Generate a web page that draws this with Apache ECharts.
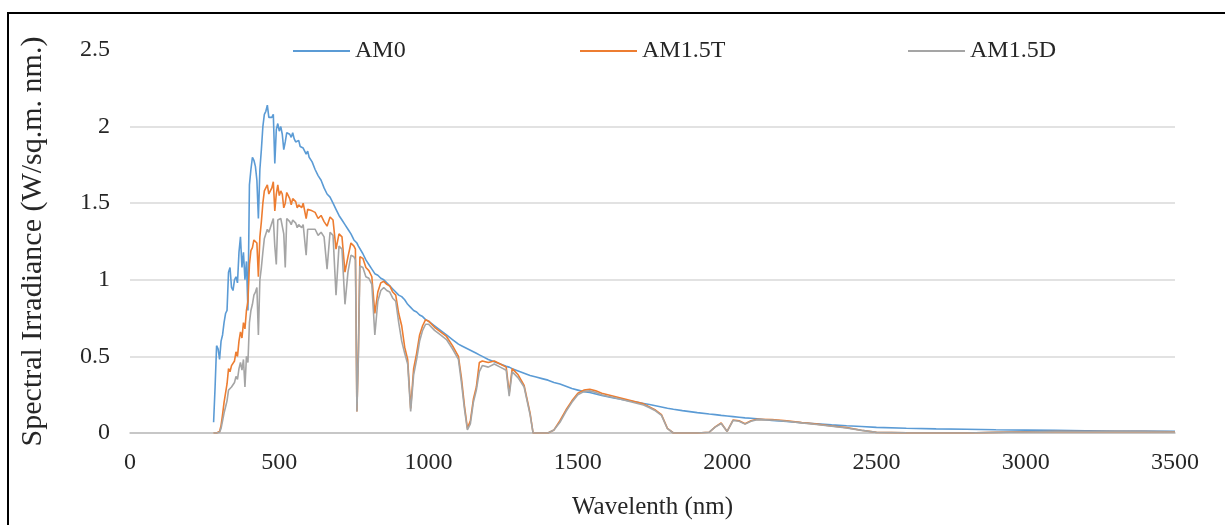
<!DOCTYPE html>
<html>
<head>
<meta charset="utf-8">
<script src="https://cdn.jsdelivr.net/npm/echarts@6/dist/echarts.min.js"></script>
<style>
html,body{margin:0;padding:0;background:#fff;}
#chart{width:1225px;height:525px;}
</style>
</head>
<body>
<div id="chart"></div>
<script>
// Wavelength (nm)
const wavelengths = [
280,285,290,295,300,305,310,315,320,325,
330,335,340,345,350,355,360,365,370,375,
380,385,390,395,400,405,410,415,420,425,
430,435,440,445,450,455,460,465,470,475,
480,485,490,495,500,505,510,515,520,525,
530,535,540,545,550,555,560,565,570,575,
580,585,590,595,600,610,620,630,640,650,
660,670,680,690,700,710,720,730,740,750,
755,760,765,770,780,790,800,810,820,830,
840,850,860,870,880,890,900,910,920,930,
940,950,960,970,980,990,1000,1020,1040,1060,
1080,1100,1110,1120,1130,1140,1150,1160,1170,1180,
1200,1220,1240,1260,1270,1280,1300,1320,1340,1350,
1360,1380,1400,1420,1440,1460,1480,1500,1520,1540,
1560,1580,1600,1620,1640,1660,1680,1700,1720,1740,
1760,1780,1800,1820,1850,1900,1940,1960,1980,2000,
2020,2040,2060,2080,2100,2150,2200,2250,2300,2350,
2400,2450,2500,2600,2700,2800,2900,3000,3100,3200,
3300,3400,3500
];
// AM0 spectral irradiance
const am0 = [
0.07,0.30,0.57,0.55,0.48,0.60,0.64,0.72,0.78,0.80,
1.05,1.08,0.95,0.93,1.00,1.02,0.98,1.18,1.28,1.08,
1.18,1.00,1.12,0.80,1.62,1.72,1.80,1.78,1.74,1.65,
1.40,1.72,1.85,2.00,2.08,2.10,2.14,2.06,2.05,2.06,
2.08,1.76,1.98,2.02,1.97,2.00,1.95,1.85,1.90,1.96,
1.97,1.95,1.93,1.96,1.92,1.90,1.89,1.91,1.87,1.86,
1.86,1.84,1.82,1.84,1.80,1.77,1.72,1.68,1.65,1.60,
1.56,1.54,1.50,1.46,1.42,1.39,1.36,1.33,1.30,1.26,
1.25,1.24,1.22,1.21,1.17,1.13,1.10,1.07,1.04,1.03,
1.01,1.00,0.98,0.96,0.94,0.92,0.90,0.89,0.87,0.84,
0.82,0.80,0.79,0.77,0.76,0.74,0.73,0.70,0.67,0.64,
0.61,0.58,0.57,0.56,0.55,0.54,0.53,0.52,0.51,0.50,
0.48,0.465,0.45,0.435,0.43,0.42,0.405,0.39,0.375,0.37,
0.365,0.355,0.345,0.33,0.32,0.305,0.29,0.28,0.27,0.265,
0.255,0.245,0.237,0.229,0.222,0.214,0.207,0.20,0.193,0.186,
0.178,0.170,0.162,0.155,0.146,0.133,0.124,0.12,0.115,0.111,
0.107,0.103,0.099,0.096,0.093,0.082,0.075,0.067,0.060,0.053,
0.047,0.042,0.037,0.031,0.027,0.024,0.021,0.019,0.017,0.015,
0.013,0.012,0.011
];
// AM1.5 global tilt
const am15t = [
0,0,0,0,0.01,0.05,0.12,0.20,0.26,0.32,
0.42,0.40,0.44,0.43,0.47,0.53,0.50,0.60,0.66,0.62,
0.72,0.68,0.80,0.86,1.10,1.19,1.21,1.26,1.25,1.24,
1.02,1.28,1.38,1.50,1.58,1.57,1.62,1.56,1.58,1.60,
1.64,1.45,1.56,1.62,1.55,1.58,1.56,1.47,1.50,1.57,
1.55,1.53,1.49,1.53,1.52,1.51,1.47,1.49,1.48,1.47,
1.50,1.49,1.40,1.46,1.47,1.45,1.44,1.40,1.42,1.38,
1.35,1.41,1.39,1.20,1.30,1.28,1.05,1.15,1.24,1.22,
1.20,0.14,0.55,1.15,1.14,1.08,1.06,1.02,0.78,0.92,
0.98,0.99,0.97,0.96,0.92,0.90,0.78,0.70,0.56,0.48,
0.16,0.42,0.52,0.64,0.70,0.74,0.73,0.69,0.66,0.63,
0.57,0.50,0.36,0.18,0.03,0.08,0.22,0.30,0.46,0.47,
0.46,0.47,0.45,0.43,0.26,0.42,0.38,0.31,0.13,0.0,
0,0,0,0.02,0.08,0.15,0.21,0.26,0.28,0.285,
0.275,0.26,0.25,0.24,0.23,0.22,0.21,0.20,0.19,0.17,
0.15,0.12,0.03,0,0,0,0.005,0.04,0.065,0.01,
0.085,0.08,0.06,0.08,0.09,0.088,0.08,0.068,0.058,0.046,
0.035,0.018,0.004,0.001,0,0,0.004,0.008,0.01,0.009,
0.01,0.009,0.008
];
// AM1.5 direct
const am15d = [
0,0,0,0,0.005,0.03,0.08,0.13,0.17,0.21,
0.28,0.27,0.30,0.30,0.33,0.37,0.35,0.42,0.46,0.41,
0.48,0.30,0.50,0.46,0.72,0.80,0.84,0.90,0.92,0.95,
0.64,1.00,1.08,1.18,1.27,1.28,1.33,1.31,1.34,1.37,
1.40,1.22,1.10,1.39,1.38,1.40,1.39,1.30,1.08,1.40,
1.39,1.38,1.36,1.39,1.38,1.37,1.34,1.36,1.35,1.34,
1.36,1.35,1.16,1.33,1.34,1.33,1.33,1.29,1.31,1.28,
1.07,1.31,1.29,0.90,1.22,1.20,0.84,1.05,1.16,1.15,
1.13,0.14,0.50,1.09,1.08,1.02,1.01,0.97,0.64,0.86,
0.93,0.95,0.93,0.92,0.88,0.86,0.72,0.60,0.52,0.45,
0.14,0.38,0.48,0.60,0.67,0.71,0.71,0.67,0.64,0.61,
0.55,0.48,0.33,0.16,0.02,0.06,0.20,0.28,0.40,0.44,
0.43,0.45,0.43,0.41,0.24,0.40,0.36,0.30,0.12,0,
0,0,0,0.02,0.07,0.14,0.20,0.25,0.27,0.275,
0.265,0.25,0.24,0.232,0.222,0.212,0.203,0.193,0.183,0.165,
0.145,0.115,0.028,0,0,0,0.005,0.038,0.062,0.01,
0.082,0.077,0.058,0.077,0.087,0.085,0.077,0.066,0.056,0.044,
0.033,0.017,0.004,0.001,0,0,0.004,0.007,0.009,0.008,
0.009,0.008,0.007
];
const seriesNames = ['AM0', 'AM1.5T', 'AM1.5D'];
const seriesColors = ['#5b9bd5', '#ed7d31', '#a5a5a5'];
const seriesValues = [am0, am15t, am15d];
const xTicks = [0, 500, 1000, 1500, 2000, 2500, 3000, 3500];
const yTicks = [0, 0.5, 1, 1.5, 2, 2.5];

const FONT = 'Liberation Serif, Times New Roman, serif';
const TXT = '#262626';
const chart = echarts.init(document.getElementById('chart'), null, {renderer: 'canvas'});
const legendLefts = [288, 575, 903];
chart.setOption({
  animation: false,
  backgroundColor: '#fff',
  graphic: [{
    type: 'rect', silent: true, z: 100,
    shape: {x: 8, y: 13, width: 1400, height: 700},
    style: {fill: 'none', stroke: '#000', lineWidth: 2}
  }],
  grid: {left: 130, right: 50, top: 50, bottom: 88},
  legend: seriesNames.map((n, i) => ({
    data: [n], left: legendLefts[i], top: 34,
    icon: 'rect', itemWidth: 57, itemHeight: 2,
    textStyle: {fontFamily: FONT, fontSize: 24, color: TXT}
  })),
  xAxis: {
    type: 'value', min: xTicks[0], max: xTicks[xTicks.length - 1], interval: 500,
    name: 'Wavelenth (nm)', nameLocation: 'middle', nameGap: 62,
    nameTextStyle: {fontFamily: FONT, fontSize: 25, color: TXT},
    axisLine: {show: true, lineStyle: {color: '#bfbfbf', width: 1.5}},
    axisTick: {show: false},
    splitLine: {show: false},
    axisLabel: {fontFamily: FONT, fontSize: 24, color: TXT, margin: 18,
      formatter: v => String(v)}
  },
  yAxis: {
    type: 'value', min: yTicks[0], max: yTicks[yTicks.length - 1], interval: 0.5,
    name: 'Spectral Irradiance (W/sq.m. nm.)', nameLocation: 'middle', nameGap: 82,
    nameTextStyle: {fontFamily: FONT, fontSize: 30, color: TXT},
    axisLine: {show: false},
    axisTick: {show: false},
    splitLine: {show: true, showMaxLine: false, lineStyle: {color: '#d9d9d9', width: 1.5}},
    axisLabel: {fontFamily: FONT, fontSize: 24, color: TXT, margin: 20,
      formatter: v => String(v)}
  },
  series: seriesNames.map((n, i) => ({
    name: n, type: 'line', symbol: 'none', showSymbol: false,
    data: wavelengths.map((w, k) => [w, seriesValues[i][k]]),
    lineStyle: {color: seriesColors[i], width: 1.6},
    itemStyle: {color: seriesColors[i]},
    z: 2 + i
  }))
});
</script>
</body>
</html>
